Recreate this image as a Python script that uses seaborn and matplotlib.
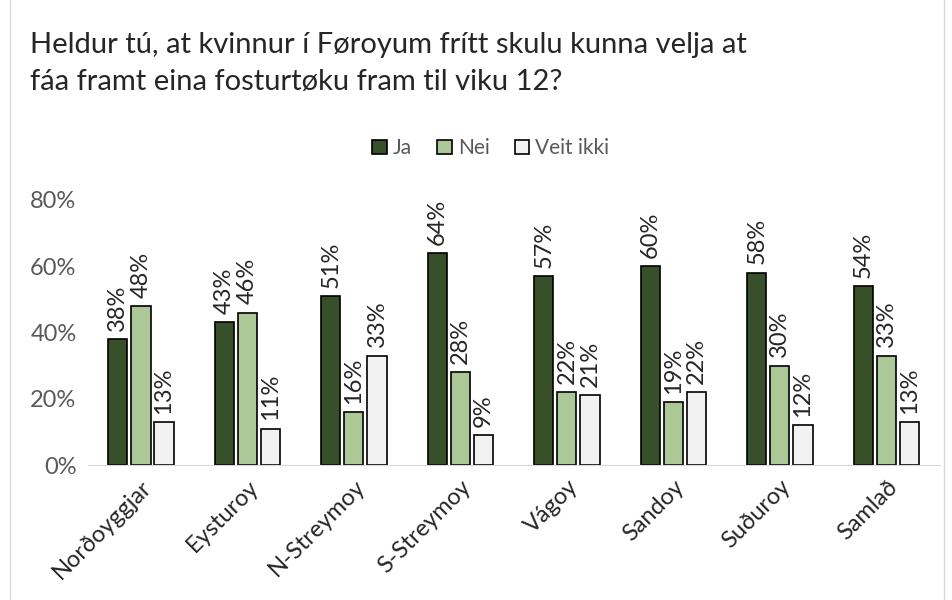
import pandas as pd
import matplotlib.pyplot as plt
import seaborn as sns
from matplotlib.patches import Rectangle

# Data
areas = ["Norðoyggjar", "Eysturoy", "N-Streymoy", "S-Streymoy", "Vágoy", "Sandoy", "Suðuroy", "Samlað"]
ja = [38, 43, 51, 64, 57, 60, 58, 54]
nei = [48, 46, 16, 28, 22, 19, 30, 33]
veit_ikki = [13, 11, 33, 9, 21, 22, 12, 13]
answers = ["Ja", "Nei", "Veit ikki"]

df = pd.DataFrame({"area": areas, "Ja": ja, "Nei": nei, "Veit ikki": veit_ikki})
df = df.melt(id_vars="area", var_name="svar", value_name="pct")

sns.set_style("white")
plt.rcParams["font.family"] = ["Lato", "DejaVu Sans"]

fig = plt.figure(figsize=(9.53, 6), dpi=100)
ax = fig.add_axes([0.092, 0.225, 0.894, 0.442])

colors = {"Ja": "#375623", "Nei": "#A9D08E", "Veit ikki": "#F2F2F2"}
sns.barplot(data=df, x="area", y="pct", hue="svar", hue_order=answers, order=areas,
            palette=colors, width=0.65, gap=0.17, edgecolor="black", linewidth=1.2,
            ax=ax, legend=True)

for cont in ax.containers:
    ax.bar_label(cont, labels=[f"{int(v)}%" for v in cont.datavalues], rotation=90,
                 padding=6, fontsize=17, clip_on=False)

ax.set_ylim(0, 80)
ax.set_yticks([0, 20, 40, 60, 80])
ax.set_yticklabels([f"{t}%" for t in [0, 20, 40, 60, 80]], fontsize=17, color="#595959")
ax.set_xlabel("")
ax.set_ylabel("")
plt.setp(ax.get_xticklabels(), rotation=45, ha="right", rotation_mode="anchor", fontsize=17)
ax.tick_params(axis="y", length=0, pad=8)
ax.tick_params(axis="x", length=0, pad=8)
for s in ["top", "right", "left"]:
    ax.spines[s].set_visible(False)
ax.spines["bottom"].set_color("#D9D9D9")
ax.set_xlim(-0.5, len(areas) - 0.5)

leg = ax.legend(loc="center", bbox_to_anchor=(0.515, 0.753), bbox_transform=fig.transFigure,
                ncol=3, frameon=False, fontsize=15, handlelength=0.7, handleheight=0.7,
                handletextpad=0.3, columnspacing=1.2)
for t in leg.get_texts():
    t.set_color("#595959")

fig.text(0.031, 0.925, "Heldur tú, at kvinnur í Føroyum frítt skulu kunna velja at",
         fontsize=21, va="center", ha="left")
fig.text(0.031, 0.863, "fáa framt eina fosturtøku fram til viku 12?",
         fontsize=21, va="center", ha="left")

fig.patches.append(Rectangle((0.011, -0.01), 0.98, 1.05, transform=fig.transFigure,
                             fill=False, edgecolor="#D9D9D9", linewidth=1))

fig.savefig("out.png", dpi=100)
